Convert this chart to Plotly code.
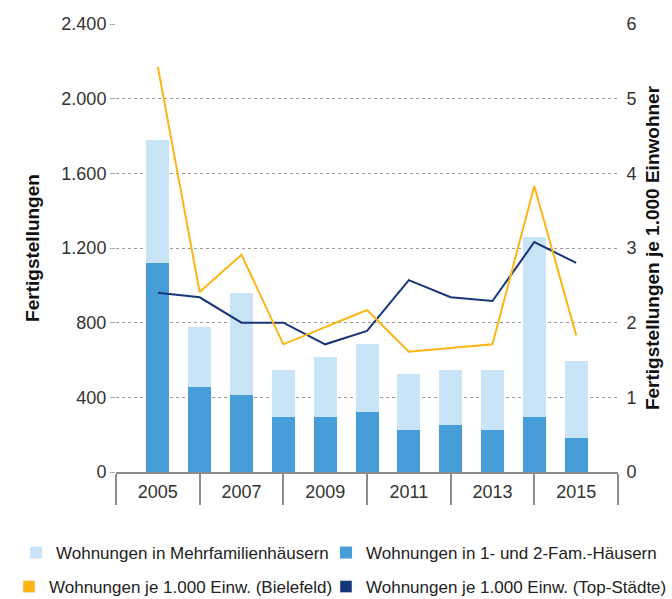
import plotly.graph_objects as go

# Data
years = [2005, 2006, 2007, 2008, 2009, 2010, 2011, 2012, 2013, 2014, 2015]
efh_zfh = [1120, 457, 411, 295, 295, 320, 227, 250, 227, 295, 182]
mfh = [660, 318, 549, 253, 321, 366, 298, 298, 321, 964, 411]
bielefeld = [5.43, 2.41, 2.91, 1.71, 1.94, 2.17, 1.61, 1.66, 1.71, 3.83, 1.83]
top_staedte = [2.40, 2.34, 2.00, 2.00, 1.71, 1.89, 2.57, 2.34, 2.29, 3.08, 2.80]

left_ticks = [0, 400, 800, 1200, 1600, 2000, 2400]
right_ticks = [0, 1, 2, 3, 4, 5, 6]
label_years = [2005, 2007, 2009, 2011, 2013, 2015]
box_years = [2004, 2006, 2008, 2010, 2012, 2014, 2016]

C_LIGHT = "#C9E4F7"
C_MID = "#469DD7"
C_YELLOW = "#FDB515"
C_NAVY = "#173679"
FONT = "Liberation Sans, Arial, sans-serif"
W, H = 672, 599

fig = go.Figure()

fig.add_trace(go.Bar(
    x=years, y=efh_zfh, name="Wohnungen in 1- und 2-Fam.-Häusern",
    marker=dict(color=C_MID, line=dict(width=0)), width=0.55,
    legend="legend2",
))
fig.add_trace(go.Bar(
    x=years, y=mfh, name="Wohnungen in Mehrfamilienhäusern",
    marker=dict(color=C_LIGHT, line=dict(width=0)), width=0.55,
    legend="legend",
))

fig.add_trace(go.Scatter(
    x=years, y=top_staedte, yaxis="y2", mode="lines",
    line=dict(color=C_NAVY, width=2), showlegend=False,
))
fig.add_trace(go.Scatter(
    x=years, y=bielefeld, yaxis="y2", mode="lines",
    line=dict(color=C_YELLOW, width=2), showlegend=False,
))

# square legend keys for the two lines
fig.add_trace(go.Bar(
    x=[None], y=[None], name="Wohnungen je 1.000 Einw. (Bielefeld)",
    marker=dict(color=C_YELLOW), legend="legend3",
))
fig.add_trace(go.Bar(
    x=[None], y=[None], name="Wohnungen je 1.000 Einw. (Top-Städte)",
    marker=dict(color=C_NAVY), legend="legend4",
))


def legend_at(px, py):
    # one legend per entry, placed in pixel terms of the whole figure
    return dict(
        orientation="h", xref="container", yref="container",
        x=px / W, y=1 - py / H, xanchor="left", yanchor="middle",
        font=dict(size=17, color="#222222"),
        itemwidth=30, bgcolor="rgba(0,0,0,0)",
    )


fig.update_layout(
    width=W, height=H,
    barmode="stack",
    separators=",.",
    font=dict(family=FONT, size=18, color="#333333"),
    margin=dict(l=116, r=54, t=24, b=127),
    paper_bgcolor="white",
    plot_bgcolor="white",
    xaxis=dict(
        range=[2004, 2016],
        tickmode="array", tickvals=label_years,
        ticks="outside", ticklen=3, tickcolor="rgba(0,0,0,0)",
        showgrid=False, zeroline=False,
        showline=True, linecolor="#8c8c8c", linewidth=1.5,
        minor=dict(tickmode="array", tickvals=box_years, ticks="outside",
                   ticklen=31, tickcolor="#8c8c8c", tickwidth=1.5, showgrid=False),
        tickfont=dict(size=18, color="#333333"),
    ),
    yaxis=dict(
        range=[0, 2400],
        tickmode="array", tickvals=left_ticks,
        tickformat=",d",
        ticks="outside", ticklen=5, tickcolor="#aaaaaa",
        showgrid=True, gridcolor="#9a9a9a", griddash="dot", gridwidth=1,
        zeroline=False, showline=False,
        title=dict(text="Fertigstellungen", standoff=16,
                   font=dict(family=FONT, size=19, color="#111111", weight="bold")),
    ),
    yaxis2=dict(
        range=[0, 6], overlaying="y", side="right",
        tickmode="array", tickvals=right_ticks,
        ticks="outside", ticklen=4, tickcolor="rgba(0,0,0,0)",
        showgrid=False, zeroline=False, showline=False,
        title=dict(text="Fertigstellungen je 1.000 Einwohner", standoff=10,
                   font=dict(family=FONT, size=19, color="#111111", weight="bold")),
    ),
    legend=legend_at(16, 553),
    legend2=legend_at(326, 553),
    legend3=legend_at(9, 587),
    legend4=legend_at(326, 587),
)

fig.write_html("out.html", config={"displayModeBar": False},
               post_script="document.body.style.margin = '0';")
